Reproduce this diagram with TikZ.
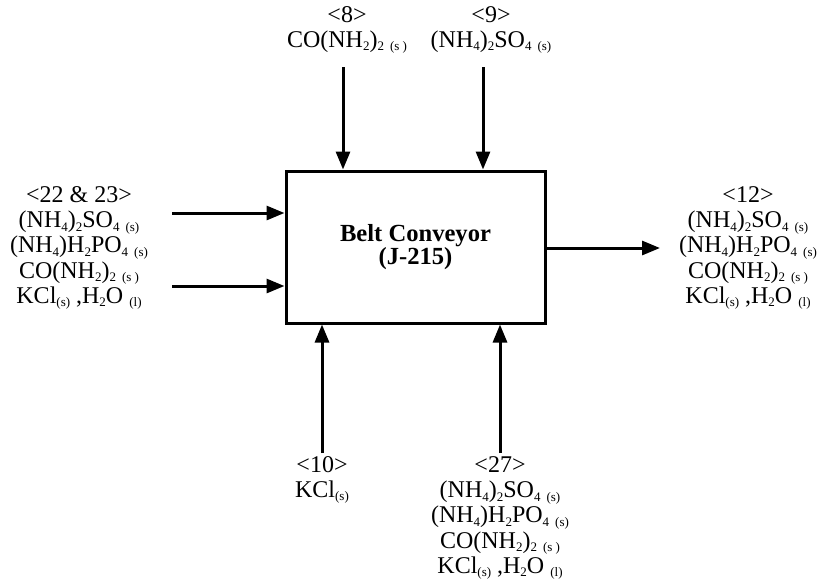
\documentclass[tikz,border=0pt]{standalone}
\usepackage{fontspec}
\setmainfont{Liberation Serif}
\usetikzlibrary{arrows.meta}

\newcommand{\sub}[1]{\raisebox{-0.3ex}{\fontsize{6.5}{7}\selectfont #1}}

\begin{document}
\begin{tikzpicture}[
    x=0.5pt, y=-0.5pt,
    unit/.style={rectangle, draw, line width=1.5pt, minimum width=129.5pt, minimum height=76pt, align=center,
        font=\fontsize{12.3}{11.5}\selectfont\bfseries},
    stream/.style={align=center, inner sep=0pt, font=\fontsize{12}{12.6}\selectfont},
    arrow/.style={-{Triangle[length=9pt, width=7pt]}, line width=1.5pt}
]
\useasboundingbox (0,0) rectangle (819,580);

\node[unit] (conveyor) at (415.5,247) {Belt Conveyor\\(J-215)};

% feed streams
\node[stream] (s8) at (347,30) {<8>\\CO(NH\sub{2})\sub{2} \sub{(s )}};
\node[stream] (s9) at (491,30) {<9>\\(NH\sub{4})\sub{2}SO\sub{4} \sub{(s)}};
\node[stream] (s22) at (79,248) {<22 \& 23>\\(NH\sub{4})\sub{2}SO\sub{4} \sub{(s)}\\(NH\sub{4})H\sub{2}PO\sub{4} \sub{(s)}\\CO(NH\sub{2})\sub{2} \sub{(s )}\\KCl\sub{(s)} ,H\sub{2}O \sub{(l)}};
\node[stream] (s10) at (322,480) {<10>\\KCl\sub{(s)}};
\node[stream] (s27) at (500,518) {<27>\\(NH\sub{4})\sub{2}SO\sub{4} \sub{(s)}\\(NH\sub{4})H\sub{2}PO\sub{4} \sub{(s)}\\CO(NH\sub{2})\sub{2} \sub{(s )}\\KCl\sub{(s)} ,H\sub{2}O \sub{(l)}};

% product stream
\node[stream] (s12) at (748,248) {<12>\\(NH\sub{4})\sub{2}SO\sub{4} \sub{(s)}\\(NH\sub{4})H\sub{2}PO\sub{4} \sub{(s)}\\CO(NH\sub{2})\sub{2} \sub{(s )}\\KCl\sub{(s)} ,H\sub{2}O \sub{(l)}};

\coordinate (in8) at (343,67);
\coordinate (in9) at (483,67);
\coordinate (in22a) at (172,213);
\coordinate (in22b) at (172,286);
\coordinate (in10) at (322,453);
\coordinate (in27) at (500,453);
\coordinate (out12) at (660,248);

\draw[arrow] (in8) -- (in8 |- conveyor.north);
\draw[arrow] (in9) -- (in9 |- conveyor.north);
\draw[arrow] (in22a) -- (in22a -| conveyor.west);
\draw[arrow] (in22b) -- (in22b -| conveyor.west);
\draw[arrow] (in10) -- (in10 |- conveyor.south);
\draw[arrow] (in27) -- (in27 |- conveyor.south);
\draw[arrow] (conveyor.east |- out12) -- (out12);
\end{tikzpicture}
\end{document}
